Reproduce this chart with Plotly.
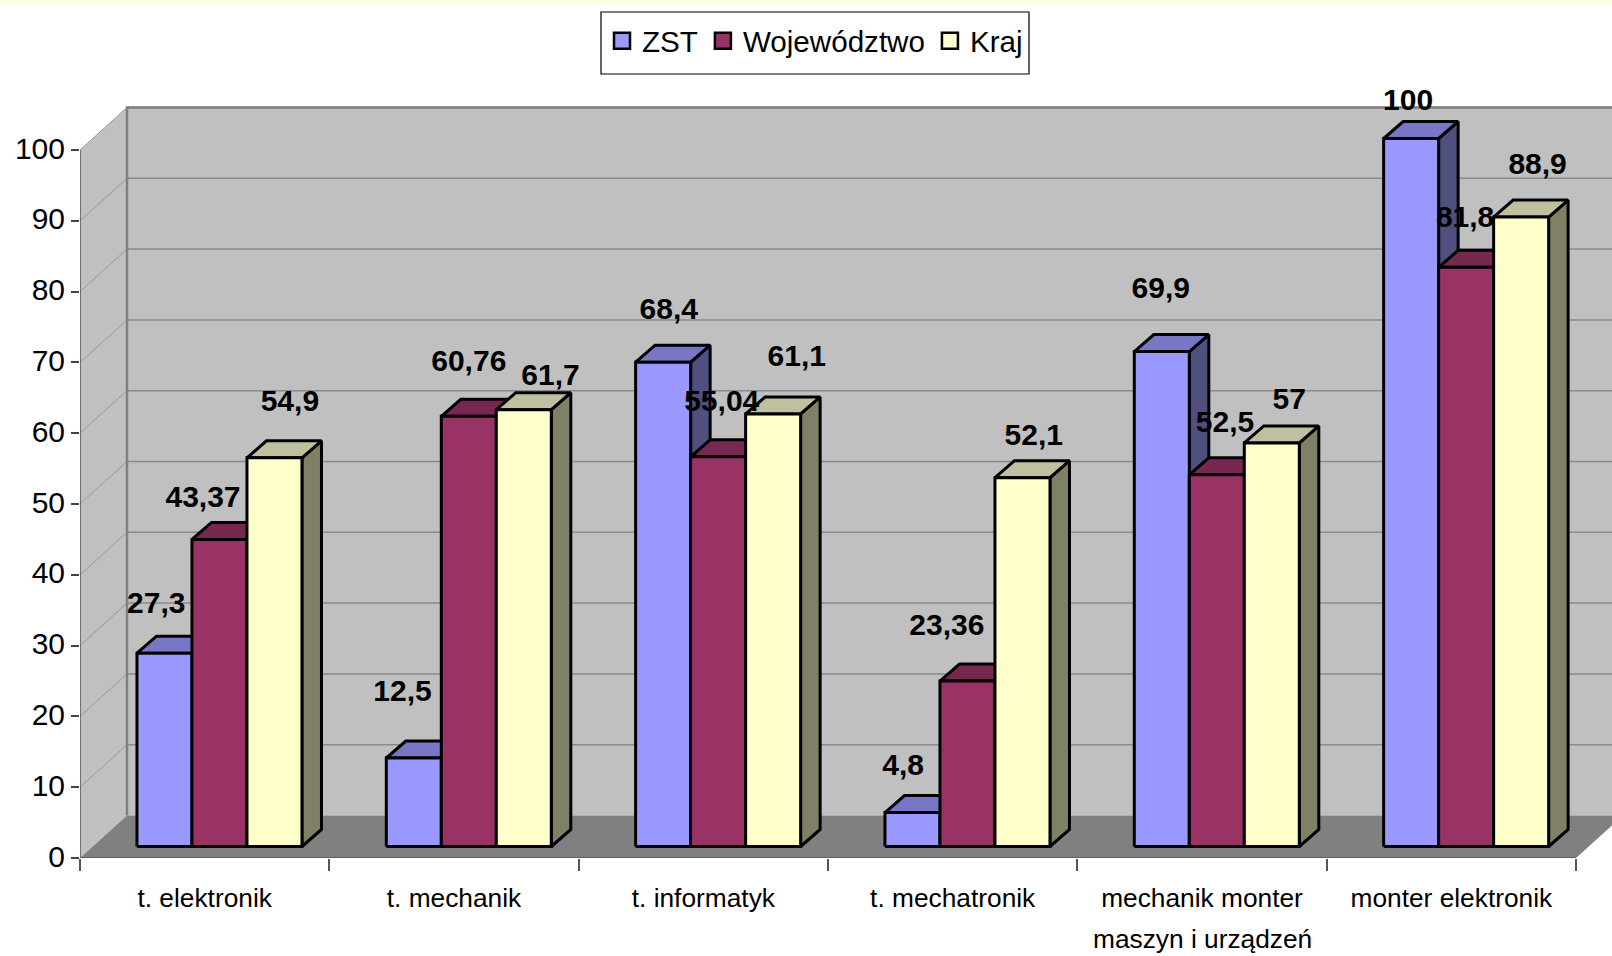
import plotly.graph_objects as go

CATEGORIES = ["t. elektronik", "t. mechanik", "t. informatyk", "t. mechatronik",
              "mechanik monter<br>maszyn i urządzeń", "monter elektronik"]
SERIES_NAMES = ["ZST", "Województwo", "Kraj"]
ZST = [27.3, 12.5, 68.4, 4.8, 69.9, 100]
WOJEWODZTWO = [43.37, 60.76, 55.04, 23.36, 52.5, 81.8]
KRAJ = [54.9, 61.7, 61.1, 52.1, 57, 88.9]
Y_TICKS = list(range(0, 101, 10))

# ---- style / layout (pixels) ----
W, H = 1612, 956
X0_PX, X1_PX = 80, 1576
Y0_PX, Y100_PX = 858, 150
UX = (X1_PX - X0_PX) / len(CATEGORIES)   # px per category
UY = (Y0_PX - Y100_PX) / 100             # px per value unit
WALL_DX, WALL_DY = 47 / UX, 42.5 / UY
BAR_SHIFT_X, BAR_SHIFT_Y = 14.8 / UX, 11.5 / UY
BAR_DX, BAR_DY = 19.5 / UX, 17 / UY
BAR_W = 55 / UX
BAR_LINE = 3

FRONT = ["#9999FF", "#993366", "#FFFFCC"]
TOP = ["#7777C6", "#772850", "#C0C0A0"]
SIDE = ["#4F4F80", "#4C1A35", "#808066"]
FONT = "Liberation Sans, Arial, sans-serif"

# label offsets from bar-top centre, px
LABEL_DX = [[-8, -11, 5.5, -9, -1, -3], [-16, 0, 3.5, -20, 8, -1], [15, 26, 23, 11, 17, 16]]
LABEL_DY = [[46, 63, 49, 44, 59, 35], [39, 51, 52, 52, 49, 47], [53, 31, 54, 39, 40, 49]]

fig = go.Figure()


def poly(xs, ys, fill, line, width, name):
    fig.add_trace(go.Scatter(x=xs, y=ys, mode="lines", fill="toself", fillcolor=fill,
                             line=dict(color=line, width=width), showlegend=False,
                             hoverinfo="skip", cliponaxis=False, name=name))


n = len(CATEGORIES)
WALL_R = n + WALL_DX
# left wall, back wall, floor
poly([0, 0, WALL_DX, WALL_DX, 0], [0, 100, 100 + WALL_DY, WALL_DY, 0], "#C0C0C0", "#C0C0C0", 0, "left wall")
poly([WALL_DX, WALL_DX, WALL_R, WALL_R, WALL_DX],
     [WALL_DY, 100 + WALL_DY, 100 + WALL_DY, WALL_DY, WALL_DY], "#C0C0C0", "#C0C0C0", 0, "back wall")
poly([0, n, WALL_R, WALL_DX, 0], [0, 0, WALL_DY, WALL_DY, 0], "#808080", "#808080", 0, "floor")

# gridlines
gx, gy = [], []
dx, dy = [], []
for t in Y_TICKS[1:]:
    gx += [WALL_DX, WALL_R, None]
    gy += [t + WALL_DY, t + WALL_DY, None]
    dx += [0, WALL_DX, None]
    dy += [t, t + WALL_DY, None]
fig.add_trace(go.Scatter(x=gx, y=gy, mode="lines", line=dict(color="#8A8A8A", width=1.5),
                         showlegend=False, hoverinfo="skip", cliponaxis=False))
fig.add_trace(go.Scatter(x=dx, y=dy, mode="lines", line=dict(color="#999999", width=1),
                         showlegend=False, hoverinfo="skip", cliponaxis=False))
fig.add_trace(go.Scatter(x=[WALL_DX, WALL_DX, WALL_R], y=[WALL_DY, 100 + WALL_DY, 100 + WALL_DY], mode="lines",
                         line=dict(color="#808080", width=2.5), showlegend=False, hoverinfo="skip",
                         cliponaxis=False))
# axis lines
fig.add_trace(go.Scatter(x=[0, 0, n], y=[100, 0, 0], mode="lines", line=dict(color="#555555", width=1.5),
                         showlegend=False, hoverinfo="skip", cliponaxis=False))

# bars
all_values = [ZST, WOJEWODZTWO, KRAJ]
for k, values in enumerate(all_values):
    fx, fy, tx, ty, sx, sy = [], [], [], [], [], []
    for i, v in enumerate(values):
        x0 = i + 0.5 + BAR_SHIFT_X + (k - 1.5) * BAR_W
        x1 = x0 + BAR_W
        b = BAR_SHIFT_Y
        t = b + v
        fx += [x0, x0, x1, x1, x0, None]
        fy += [b, t, t, b, b, None]
        tx += [x0, x0 + BAR_DX, x1 + BAR_DX, x1, x0, None]
        ty += [t, t + BAR_DY, t + BAR_DY, t, t, None]
        sx += [x1, x1 + BAR_DX, x1 + BAR_DX, x1, x1, None]
        sy += [b, b + BAR_DY, t + BAR_DY, t, b, None]
    poly(sx, sy, SIDE[k], "#000000", BAR_LINE, SERIES_NAMES[k] + " side")
    poly(tx, ty, TOP[k], "#000000", BAR_LINE, SERIES_NAMES[k] + " top")
    poly(fx, fy, FRONT[k], "#000000", BAR_LINE, SERIES_NAMES[k])

# data labels
for k, values in enumerate(all_values):
    lx = [i + 0.5 + BAR_SHIFT_X + (k - 1) * BAR_W + LABEL_DX[k][i] * 1.028 / UX for i in range(n)]
    ly = [BAR_SHIFT_Y + v + LABEL_DY[k][i] * 1.028 / UY for i, v in enumerate(values)]
    fig.add_trace(go.Scatter(x=lx, y=ly, mode="text",
                             text=[f"{v:g}".replace(".", ",") for v in values],
                             textposition="middle center",
                             textfont=dict(family=FONT, size=30, color="#000000", weight="bold"),
                             showlegend=False, hoverinfo="skip", cliponaxis=False))

# legend entries
for k, name in enumerate(SERIES_NAMES):
    fig.add_trace(go.Scatter(x=[None], y=[None], mode="markers", name=name, cliponaxis=False,
                             marker=dict(symbol="square", size=18, color=FRONT[k],
                                         line=dict(color="#000000", width=2.5))))

X_TOP = (W - X0_PX) / UX
Y_TOP = Y0_PX / UY
PW, PH = W - X0_PX, Y0_PX

# tick labels: first line on the axis, further lines as annotations for the wider line spacing
TICK_TEXT = [c.split("<br>")[0] for c in CATEGORIES]
annotations = []
for i, c in enumerate(CATEGORIES):
    for extra in c.split("<br>")[1:]:
        annotations.append(dict(x=i + 0.5, y=0, xref="x", yref="y", text=extra, showarrow=False,
                                xanchor="center", yanchor="middle", yshift=-81,
                                font=dict(family=FONT, size=26.3, color="#000000")))

fig.update_layout(
    width=W, height=H, autosize=False,
    margin=dict(l=X0_PX, r=0, t=0, b=H - Y0_PX, pad=0),
    paper_bgcolor="#FFFFFF", plot_bgcolor="rgba(0,0,0,0)",
    font=dict(family=FONT, color="#000000"),
    legend=dict(orientation="h", xanchor="center", x=(815 - X0_PX) / PW,
                yanchor="middle", y=1 - 41 / PH,
                bgcolor="rgba(0,0,0,0)", borderwidth=0,
                font=dict(family=FONT, size=29.6, color="#000000")),
    annotations=annotations,
    xaxis=dict(range=[0, X_TOP], showgrid=False, zeroline=False, showline=False, automargin=False, tickangle=0,
               tickmode="array", tickvals=[i + 0.5 for i in range(n)], ticktext=TICK_TEXT,
               ticks="outside", ticklen=16, tickcolor="rgba(0,0,0,0)",
               tickfont=dict(family=FONT, size=26.3, color="#000000"),
               minor=dict(tickmode="array", tickvals=list(range(n + 1)), ticks="outside", ticklen=12,
                          tickcolor="#555555", tickwidth=1.5, showgrid=False)),
    yaxis=dict(range=[0, Y_TOP], showgrid=False, zeroline=False, showline=False, automargin=False,
               tickmode="array", tickvals=Y_TICKS, ticks="outside", ticklen=8, tickcolor="#444444", tickwidth=1.5,
               ticklabelshift=-2,
               tickfont=dict(family=FONT, size=30, color="#000000")),
    shapes=[dict(type="rect", xref="paper", yref="paper", x0=-X0_PX / PW, x1=1,
                 y0=1 - 5 / PH, y1=1,
                 fillcolor="#FFFDE6", line=dict(width=0), layer="below"),
            dict(type="rect", xref="paper", yref="paper", x0=(601 - X0_PX) / PW, x1=(1029 - X0_PX) / PW,
                 y0=1 - 74 / PH, y1=1 - 12 / PH,
                 fillcolor="#FFFFFF", line=dict(color="#000000", width=1.2), layer="above")],
)

fig.write_html("out.html", config=dict(displayModeBar=False),
               post_script="document.body.style.margin='0';")
